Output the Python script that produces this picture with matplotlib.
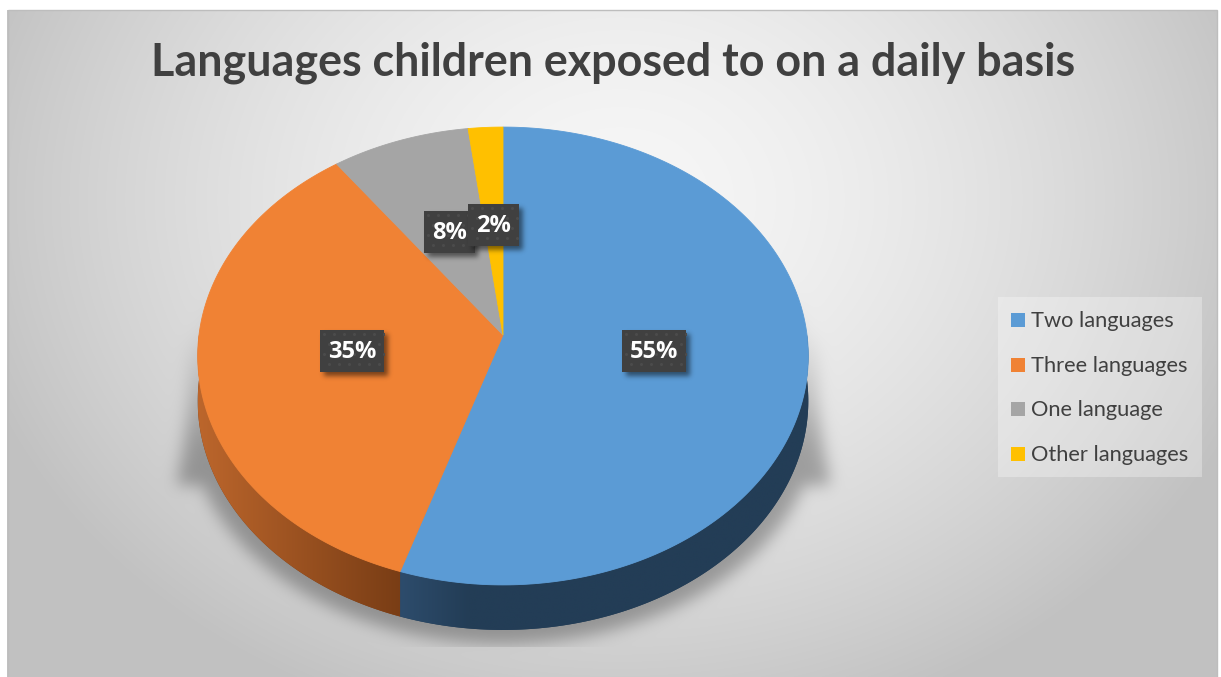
import numpy as np
import matplotlib
matplotlib.use('Agg')
import matplotlib.pyplot as plt
from matplotlib.patches import Polygon, Rectangle
from matplotlib.path import Path
from matplotlib.colors import to_rgb

# ---------------- data ----------------
TITLE = 'Languages children exposed to on a daily basis'
categories = ['Two languages', 'Three languages', 'One language', 'Other languages']
shares = [55, 35, 8, 2]
top_colors = ['#5B9BD5', '#F08234', '#A5A5A5', '#FFC000']
side_colors = [('#2D4C6C', '#233D56'), ('#BC662C', '#793D15'),
               ('#6E6E6E', '#5A5A5A'), ('#A67C00', '#8A6700')]

# ---------------- geometry (pixels) ----------------
W, H = 1221, 677
CX, CY = 503, 335          # pie centre on screen
SX, SY = 304, 227          # horizontal / vertical radius
PERSP = 0.0917             # perspective foreshortening
DEPTH = 45                 # thickness of the disc

TEXT_DARK = '#404040'


def proj(theta, r=1.0):
    u = r * np.cos(theta)
    v = r * np.sin(theta)
    d = 1 + PERSP * v
    return CX + SX * u / d, CY - SY * v / d


def blur(a, s):
    r = int(3 * s)
    x = np.arange(-r, r + 1)
    k = np.exp(-x ** 2 / (2.0 * s * s))
    k /= k.sum()
    a = np.apply_along_axis(lambda m: np.convolve(m, k, mode='same'), 0, a)
    a = np.apply_along_axis(lambda m: np.convolve(m, k, mode='same'), 1, a)
    return a


def arc(a0, a1, n=200, r=1.0):
    t = np.radians(np.linspace(a0, a1, n))
    x, y = proj(t, r)
    return np.column_stack([x, y])


# ---------------- background ----------------
yy, xx = np.mgrid[0:H, 0:W] + 0.5
t = np.sqrt(((xx - 620) / 640.0) ** 2 + ((yy - 200) / 520.0) ** 2)
gray = 0.965 - 0.19 * np.clip(t, 0, 1.05) ** 1.6

# soft shadow behind the disc
sil = np.vstack([arc(0, 180), arc(180, 360) + [0, DEPTH]])
sil_big = sil.copy()
sil_big[:, 0] = CX + (sil_big[:, 0] - CX) * 1.035
sil_big[:, 1] += 14
pts = np.column_stack([xx.ravel(), yy.ravel()])
m1 = Path(sil_big).contains_points(pts).reshape(H, W).astype(float)
trap = Path([(206, 285), (800, 285), (830, 485), (177, 485)])
m2 = trap.contains_points(pts).reshape(H, W).astype(float)
m2 *= np.clip((yy - 285) / 190.0, 0, 1) ** 1.4
m1 *= np.clip((yy - 330) / 120.0, 0, 1)
mask = blur(np.maximum(m1, m2), 8)
mask[yy > 647] *= 0.15
gray = gray * (1 - 0.3 * mask)

bg = np.dstack([gray, gray, gray])
# white margin and frame
bg[:10, :, :] = 1.0
bg[:, :7, :] = 1.0
bg[:, 1217:, :] = 1.0

fig = plt.figure(figsize=(W / 100, H / 100), dpi=100)
ax = fig.add_axes([0, 0, 1, 1])
ax.imshow(bg, extent=(0, W, H, 0), aspect='auto', interpolation='bilinear', zorder=0)
ax.add_patch(Rectangle((7.5, 9.5), 1209, H, fill=False, edgecolor='#BDBDBD', lw=1, zorder=1))

# ---------------- pie ----------------
bounds = 90 - 360 * np.cumsum([0] + shares) / sum(shares)

# sides (front half only)
for i in range(len(shares)):
    start, end = bounds[i], bounds[i + 1]
    for shift in (-360, 0, 360):
        lo = max(end + shift, -180)
        hi = min(start + shift, 0)
        if hi <= lo:
            continue
        top = arc(lo, hi)
        bot = arc(hi, lo) + [0, DEPTH]
        poly = np.vstack([top, bot])
        patch = Polygon(poly, closed=True, facecolor=side_colors[i][1],
                        edgecolor='none', zorder=2)
        ax.add_patch(patch)
        x0, x1 = poly[:, 0].min(), poly[:, 0].max()
        c0, c1 = np.array(to_rgb(side_colors[i][0])), np.array(to_rgb(side_colors[i][1]))
        if i == 0:
            f = np.clip(np.linspace(0, 1, 256) * 6, 0, 1)
        else:
            f = np.linspace(0, 1, 256)
        grad = (c0[None, :] * (1 - f[:, None]) + c1[None, :] * f[:, None])[None, :, :]
        if start + shift > 0 and i != 0:
            grad = grad[:, ::-1, :]
        im = ax.imshow(grad, extent=(x0, x1, poly[:, 1].max(), poly[:, 1].min()),
                       aspect='auto', zorder=2.1, interpolation='bilinear')
        im.set_clip_path(patch)

# top face
for i in range(len(shares)):
    pts_w = np.vstack([[CX, CY], arc(bounds[i], bounds[i + 1], 300)])
    ax.add_patch(Polygon(pts_w, closed=True, facecolor=top_colors[i],
                         edgecolor=top_colors[i], lw=0.6, zorder=3))

renderer = fig.canvas.get_renderer()


def fit_text(txt, target_w):
    w = txt.get_window_extent(renderer=renderer).width
    txt.set_fontsize(txt.get_fontsize() * target_w / w)


# ---------------- data labels ----------------
for i, val in enumerate(shares):
    mid = np.radians((bounds[i] + bounds[i + 1]) / 2)
    lx, ly = proj(mid, 0.5)
    ly -= 2
    s = f'{val}%'
    txt = ax.text(lx, ly + 1, s, ha='center', va='center', color='white',
                  fontsize=17, fontweight='bold', family='Open Sans', zorder=7 + i * 0.1)
    tw = txt.get_window_extent(renderer=renderer).width
    bw, bh = tw + 16, 42
    bx, by = lx - bw / 2, ly - bh / 2
    # drop shadow
    pad = 12
    sh = np.zeros((int(bh) + 2 * pad, int(bw) + 2 * pad))
    sh[pad:pad + int(bh), pad:pad + int(bw)] = 1
    sh = blur(sh, 2.5)
    rgba = np.zeros(sh.shape + (4,))
    rgba[..., 3] = sh * 0.5
    ax.imshow(rgba, extent=(bx - pad + 4, bx - pad + 4 + sh.shape[1],
                            by - pad + 4 + sh.shape[0], by - pad + 4),
              aspect='auto', zorder=6 + i * 0.1, interpolation='bilinear')
    box = Rectangle((bx, by), bw, bh, facecolor='#404040', edgecolor='none',
                    zorder=6.05 + i * 0.1)
    ax.add_patch(box)
    gx, gy = np.meshgrid(np.arange(bx + 4, bx + bw, 10), np.arange(by + 4, by + bh, 10))
    gx = gx + (np.arange(gx.shape[0])[:, None] % 2) * 5
    dots = ax.scatter(gx.ravel(), gy.ravel(), s=5, color='#4B4B4B', lw=0,
                      zorder=6.06 + i * 0.1)
    dots.set_clip_path(box)

# ---------------- title ----------------
title = ax.text(613.5, 75, TITLE, ha='center', va='baseline', color=TEXT_DARK,
                fontsize=30, fontweight='bold', family='Lato', zorder=8)
fit_text(title, 923)

# ---------------- legend ----------------
ax.add_patch(Rectangle((998, 297), 204, 180, facecolor='white', alpha=0.3,
                       edgecolor='none', zorder=4))
row_y = [327, 372, 416, 461]
leg_texts = []
for i, name in enumerate(categories):
    ax.add_patch(Rectangle((1011, row_y[i] - 14), 14, 14, facecolor=top_colors[i],
                           edgecolor='none', zorder=5))
    leg_texts.append(ax.text(1031, row_y[i], name, ha='left', va='baseline',
                             color=TEXT_DARK, fontsize=14, family='Lato', zorder=5))
fit_text(leg_texts[3], 158)
for tx in leg_texts[:3]:
    tx.set_fontsize(leg_texts[3].get_fontsize())

ax.set_xlim(0, W)
ax.set_ylim(H, 0)
ax.axis('off')
fig.savefig('out.png', dpi=100)
